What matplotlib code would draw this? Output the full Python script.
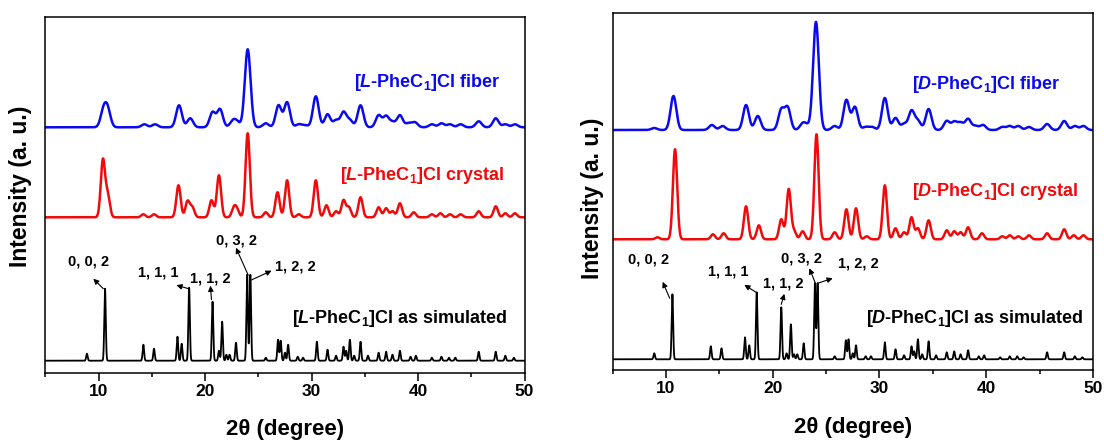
import numpy as np
import matplotlib
matplotlib.use("Agg")
import matplotlib.pyplot as plt

plt.rcParams["font.family"] = ["Liberation Sans", "DejaVu Sans"]
plt.rcParams["font.weight"] = "bold"
plt.rcParams["mathtext.fontset"] = "custom"
plt.rcParams["mathtext.rm"] = "Liberation Sans:bold"
plt.rcParams["mathtext.it"] = "Liberation Sans:italic:bold"
plt.rcParams["mathtext.bf"] = "Liberation Sans:bold"

# ---- peak lists (2theta in degree, relative intensity) ----
L_FIBER_POS = [10.45, 10.85, 14.3, 15.3, 17.55, 18.6, 20.7, 21.4, 22.6, 23.0, 24.0, 25.7,
               26.9, 27.7, 28.8, 29.4, 30.4, 31.5, 32.3, 33.0, 33.6, 34.6, 36.3, 37.0,
               37.6, 38.3, 39.1, 39.7, 41.3, 42.2, 43.0, 44.0, 45.7, 47.3, 48.2, 49.1]
L_FIBER_HT = [16, 17, 3, 3, 22, 9, 15, 18, 6, 5, 78, 4,
              22, 25, 3, 2, 31, 13, 7, 15, 7, 22, 12, 11,
              5, 12, 4, 5, 3, 4, 3, 3, 6, 9, 3, 3]

L_CRYSTAL_POS = [10.4, 10.85, 14.2, 15.2, 17.5, 18.35, 18.8, 20.6, 21.3, 22.7, 23.0, 24.0,
                 25.7, 26.8, 27.7, 28.8, 30.4, 31.4, 32.3, 33.0, 33.5, 34.6, 36.3, 37.0,
                 37.6, 38.3, 39.6, 41.3, 42.1, 43.0, 44.0, 45.7, 47.3, 48.2, 49.1]
L_CRYSTAL_HT = [57, 22, 3, 3, 32, 16, 10, 17, 42, 9, 7, 84,
                5, 25, 37, 3, 37, 12, 6, 17, 10, 20, 10, 9,
                6, 14, 5, 3, 4, 3, 3, 6, 11, 4, 4]

L_SIM_POS = [8.9, 10.6, 14.2, 15.2, 17.4, 17.8, 18.5, 20.7, 21.3, 21.6, 22.0, 22.3, 22.9,
             23.95, 24.25, 25.7, 26.85, 27.1, 27.5, 27.8, 28.7, 29.2, 30.5, 31.5, 32.3,
             33.0, 33.25, 33.6, 34.0, 34.6, 35.3, 36.3, 37.0, 37.6, 38.3, 39.3, 39.8,
             41.3, 42.2, 42.9, 43.5, 45.7, 47.3, 48.2, 49.0]
L_SIM_HT = [7, 72, 16, 12, 24, 17, 73, 59, 10, 39, 6, 6, 18,
            86, 86, 3, 21, 20, 8, 16, 4, 3, 19, 11, 5,
            14, 10, 21, 5, 19, 5, 8, 9, 6, 10, 4, 5,
            3, 4, 3, 3, 9, 9, 5, 3]

D_FIBER_POS = [8.9, 10.7, 14.3, 15.3, 17.5, 18.6, 20.8, 21.4, 22.8, 23.2, 24.05, 25.8,
               26.9, 27.7, 28.7, 29.3, 30.5, 31.5, 32.3, 33.0, 33.6, 34.6, 36.3, 37.0,
               37.6, 38.3, 39.0, 39.7, 41.5, 42.2, 43.0, 44.0, 45.7, 47.3, 48.3, 49.1]
D_FIBER_HT = [2, 34, 5, 4, 25, 14, 20, 22, 6, 4, 108, 4,
              30, 23, 3, 3, 32, 12, 6, 19, 9, 21, 9, 8,
              7, 11, 4, 5, 3, 4, 4, 3, 6, 9, 4, 4]

D_CRYSTAL_POS = [9.2, 10.85, 14.4, 15.4, 17.5, 18.7, 20.8, 21.5, 22.0, 22.8, 24.1, 25.8,
                 26.9, 27.8, 28.8, 30.5, 31.5, 32.3, 33.0, 33.6, 34.6, 36.3, 37.0, 37.6,
                 38.3, 39.6, 41.5, 42.2, 43.0, 44.0, 45.7, 47.3, 48.2, 49.1]
D_CRYSTAL_HT = [2, 90, 5, 6, 33, 14, 20, 50, 8, 8, 105, 7,
                30, 31, 3, 54, 11, 7, 22, 11, 19, 9, 8, 7,
                12, 6, 3, 4, 3, 4, 6, 10, 4, 4]

D_SIM_POS = [8.9, 10.6, 14.2, 15.2, 17.4, 17.8, 18.5, 20.8, 21.3, 21.7, 22.0, 22.3, 22.9,
             23.95, 24.2, 25.8, 26.85, 27.1, 27.5, 27.8, 28.7, 29.2, 30.5, 31.5, 32.3,
             33.0, 33.25, 33.6, 34.0, 34.6, 35.3, 36.3, 37.0, 37.6, 38.3, 39.3, 39.8,
             41.3, 42.2, 42.9, 43.5, 45.7, 47.3, 48.3, 49.0]
D_SIM_HT = [6, 65, 13, 11, 22, 14, 67, 52, 6, 35, 5, 5, 16,
            76, 76, 3, 19, 20, 6, 14, 3, 3, 17, 10, 4,
            13, 8, 20, 5, 18, 4, 7, 8, 5, 9, 3, 4,
            2, 3, 3, 2, 7, 7, 3, 2]

# Miller-index labels: (text, text xy, arrow tail on peak, arrow head)
L_HKL = [("0, 0, 2", (9.10, 99), (10.44, 72), (9.5, 82)),
         ("1, 1, 1", (15.6, 88), (18.45, 72), (17.3, 75.5)),
         ("1, 1, 2", (20.5, 82.5), (20.6, 61), (20.5, 75)),
         ("0, 3, 2", (22.95, 120), (24.05, 85.5), (22.9, 113)),
         ("1, 2, 2", (28.45, 94), (24.3, 80.5), (26.25, 90))]
D_HKL = [("0, 0, 2", (8.37, 100), (10.35, 61), (9.69, 77.5)),
         ("1, 1, 1", (15.8, 87.5), (18.44, 67), (17.34, 74.5)),
         ("1, 1, 2", (21.0, 75.5), (20.8, 55), (21.09, 65.5)),
         ("0, 3, 2", (22.66, 101), (24.0, 76), (23.43, 91)),
         ("1, 2, 2", (28.03, 96), (24.2, 76), (25.62, 81))]

BLUE = "#0a0af0"
RED = "#f00a0a"

x = np.linspace(5, 50, 4501)


def pattern(pos, ht, sigma):
    y = np.zeros_like(x)
    for p, h in zip(pos, ht):
        y += h * np.exp(-0.5 * ((x - p) / sigma) ** 2)
    return y


W, H = 1104, 442
fig = plt.figure(figsize=(W / 100, H / 100), dpi=100)


def px_axes(l, r, t, b):
    return fig.add_axes([l / W, (H - b) / H, (r - l) / W, (b - t) / H])


panels = [
    dict(box=(45.4, 524.5, 17.3, 372.7), ylim=(-12, 343.4), off_c=143.4, off_f=233.4,
         fiber=(L_FIBER_POS, L_FIBER_HT), crystal=(L_CRYSTAL_POS, L_CRYSTAL_HT),
         sim=(L_SIM_POS, L_SIM_HT), hkl=L_HKL, tag="L",
         lab_f=(33.98, 278.4), lab_c=(32.65, 185.7), lab_s=(28.19, 42.4),
         ylab=(21, 186.7), xlab=(285, 430)),
    dict(box=(612.6, 1093.0, 13.3, 370.0), ylim=(-10.7, 346), off_c=120.0, off_f=229.3,
         fiber=(D_FIBER_POS, D_FIBER_HT), crystal=(D_CRYSTAL_POS, D_CRYSTAL_HT),
         sim=(D_SIM_POS, D_SIM_HT), hkl=D_HKL, tag="D",
         lab_f=(33.08, 275), lab_c=(33.01, 167.6), lab_s=(28.72, 41),
         ylab=(592.5, 198.3), xlab=(853, 428)),
]

for P in panels:
    ax = px_axes(*P["box"])
    ax.plot(x, pattern(*P["sim"], 0.07), color="black", lw=1.3)
    ax.plot(x, pattern(*P["crystal"], 0.2) + P["off_c"], color=RED, lw=1.8)
    ax.plot(x, pattern(*P["fiber"], 0.27) + P["off_f"], color=BLUE, lw=1.8)

    ax.set_xlim(5, 50)
    ax.set_ylim(*P["ylim"])
    ax.set_yticks([])
    ax.set_xticks([10, 20, 30, 40, 50])
    ax.set_xticks([5, 15, 25, 35, 45], minor=True)
    ax.tick_params(axis="x", which="major", direction="out", length=5.5, width=1.1,
                   labelsize=12.5, pad=2.5)
    ax.tick_params(axis="x", which="minor", direction="out", length=3, width=1.1)
    for lab in ax.get_xticklabels():
        lab.set_fontweight("bold")
    for s in ax.spines.values():
        s.set_linewidth(1.1)

    t = P["tag"]
    ax.text(*P["lab_f"], rf"[$\mathit{{{t}}}$-PheC$_{{1}}$]Cl fiber", color=BLUE,
            fontsize=13, fontweight="bold", ha="left", va="center")
    ax.text(*P["lab_c"], rf"[$\mathit{{{t}}}$-PheC$_{{1}}$]Cl crystal", color=RED,
            fontsize=13, fontweight="bold", ha="left", va="center")
    ax.text(*P["lab_s"], rf"[$\mathit{{{t}}}$-PheC$_{{1}}$]Cl as simulated", color="black",
            fontsize=13, fontweight="bold", ha="left", va="center")

    for txt, txy, tail, head in P["hkl"]:
        ax.text(*txy, txt, fontsize=10.5, fontweight="bold", ha="center", va="center")
        ax.annotate("", xy=head, xytext=tail,
                    arrowprops=dict(arrowstyle="-|>", color="black", lw=0.8,
                                    mutation_scale=8, shrinkA=0, shrinkB=0))

    fig.text(P["ylab"][0] / W, (H - P["ylab"][1]) / H, "Intensity (a. u.)",
             rotation=90, ha="center", va="center", fontsize=16.5, fontweight="bold")
    fig.text(P["xlab"][0] / W, (H - P["xlab"][1]) / H, "2θ (degree)",
             ha="center", va="center", fontsize=16, fontweight="bold")

fig.savefig("out.png", dpi=100)
